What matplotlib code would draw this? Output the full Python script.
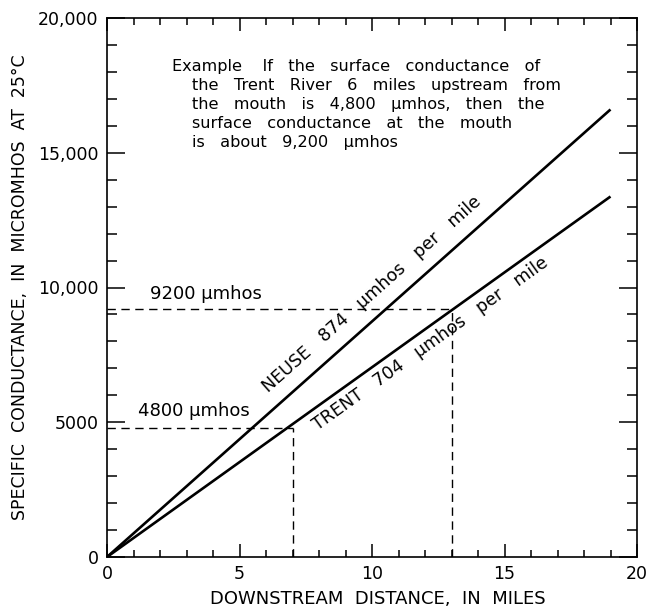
import numpy as np
import matplotlib
matplotlib.use("Agg")
import matplotlib.pyplot as plt
from matplotlib.ticker import MultipleLocator, FixedLocator, FixedFormatter

# ---- data ----
rivers = ["NEUSE", "TRENT"]
rates = [874, 704]            # umhos per mile
x_end = [19, 19]              # miles
example_miles = [7, 13]       # Trent: 6 miles upstream -> mouth
example_values = [4800, 9200] # umhos
example_labels = ["4800 µmhos", "9200 µmhos"]
xtick_vals = [0, 5, 10, 15, 20]
xtick_labels = ["0", "5", "10", "15", "20"]
ytick_vals = [0, 5000, 10000, 15000, 20000]
ytick_labels = ["0", "5000", "10,000", "15,000", "20,000"]
example_lines = [
    "Example    If   the   surface   conductance   of",
    "the   Trent   River   6   miles   upstream   from",
    "the   mouth   is   4,800   µmhos,   then   the",
    "surface   conductance   at   the   mouth",
    "is   about   9,200   µmhos",
]
line_labels = ["NEUSE   874   µmhos   per   mile",
               "TRENT   704   µmhos   per   mile"]

plt.rcParams['font.family'] = ['DejaVu Sans']

W, H = 650, 613
fig = plt.figure(figsize=(6.5, 6.13), dpi=100)
ax = fig.add_axes([107 / W, 56 / H, 530 / W, 539 / H])
ax.set_xlim(0, 20)
ax.set_ylim(0, 20000)

# main lines
for r, xe in zip(rates, x_end):
    xs = np.array([0, xe])
    ax.plot(xs, r * xs, color='black', lw=1.9, solid_capstyle='butt', zorder=3)

# dashed example lines
for xm, yv in zip(example_miles, example_values):
    ax.plot([0, xm], [yv, yv], color='black', lw=1.0, dashes=(6, 4), zorder=2)
    ax.plot([xm, xm], [0, yv], color='black', lw=1.0, dashes=(6, 4), zorder=2)

# labels of example values
ax.text(1.17, 5230, example_labels[0], fontsize=13, ha='left', va='baseline')
ax.text(1.62, 9570, example_labels[1], fontsize=13, ha='left', va='baseline')

# line labels rotated along lines
label_anchor = [(6.1, 6090), (7.95, 4700)]
for lab, r, (ax_, ay_) in zip(line_labels, rates, label_anchor):
    ang = np.degrees(np.arctan2(r, 1.0))
    ax.text(ax_, ay_, lab, fontsize=12.6, rotation=ang, rotation_mode='anchor',
            transform_rotates_text=True, ha='left', va='baseline')

# example text block
lefts = [172, 192, 192, 192, 192]
bases = [71, 90, 109, 128, 147]
for t, lx, by in zip(example_lines, lefts, bases):
    ax.text((lx - 107) / 530, (557 - by) / 539, t, fontsize=11.6,
            transform=ax.transAxes, ha='left', va='baseline')

# ticks
ax.xaxis.set_major_locator(FixedLocator(xtick_vals))
ax.xaxis.set_major_formatter(FixedFormatter(xtick_labels))
ax.xaxis.set_minor_locator(MultipleLocator(1))
ax.yaxis.set_major_locator(FixedLocator(ytick_vals))
ax.yaxis.set_major_formatter(FixedFormatter(ytick_labels))
ax.yaxis.set_minor_locator(MultipleLocator(1000))

ax.tick_params(axis='both', which='both', direction='in', top=True, right=True,
               width=1.1, labelsize=12.5, colors='black')
ax.tick_params(axis='x', which='major', length=9.5, pad=6)
ax.tick_params(axis='x', which='minor', length=5)
ax.tick_params(axis='y', which='major', length=13, pad=6)
ax.tick_params(axis='y', which='minor', length=7)

for s in ax.spines.values():
    s.set_linewidth(1.2)

ax.set_xlabel("DOWNSTREAM  DISTANCE,  IN  MILES", fontsize=13)
ax.xaxis.set_label_coords((378 - 107) / 530, (557 - 590) / 539)
ax.set_ylabel("SPECIFIC  CONDUCTANCE,  IN  MICROMHOS  AT  25°C", fontsize=12.5)
ax.yaxis.set_label_coords((29 - 107) / 530, 0.5)

fig.savefig("out.png", dpi=100)
